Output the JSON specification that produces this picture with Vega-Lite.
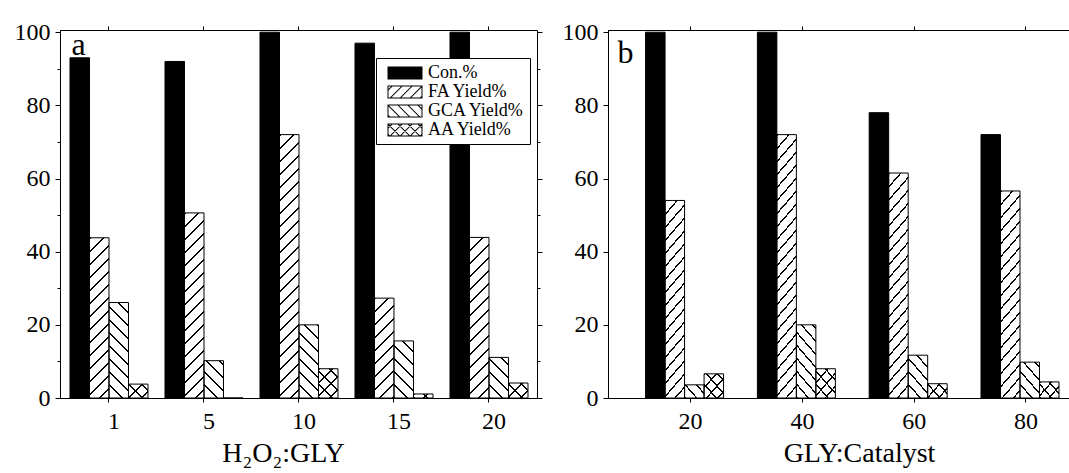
{
 "$schema": "https://vega.github.io/schema/vega-lite/v6.json",
 "padding": {"left": 13, "top": 19, "right": 0, "bottom": 0},
 "spacing": 18,
 "params": [{"name": "hatch", "value": [
  {"offset":0,"color":"#000"},{"offset":0.00641,"color":"#000"},{"offset":0.00641,"color":"rgba(0,0,0,0)"},{"offset":0.041667,"color":"rgba(0,0,0,0)"},
  {"offset":0.041667,"color":"#000"},{"offset":0.048077,"color":"#000"},{"offset":0.048077,"color":"rgba(0,0,0,0)"},{"offset":0.083333,"color":"rgba(0,0,0,0)"},
  {"offset":0.083333,"color":"#000"},{"offset":0.089744,"color":"#000"},{"offset":0.089744,"color":"rgba(0,0,0,0)"},{"offset":0.125,"color":"rgba(0,0,0,0)"},
  {"offset":0.125,"color":"#000"},{"offset":0.13141,"color":"#000"},{"offset":0.13141,"color":"rgba(0,0,0,0)"},{"offset":0.166667,"color":"rgba(0,0,0,0)"},
  {"offset":0.166667,"color":"#000"},{"offset":0.173077,"color":"#000"},{"offset":0.173077,"color":"rgba(0,0,0,0)"},{"offset":0.208333,"color":"rgba(0,0,0,0)"},
  {"offset":0.208333,"color":"#000"},{"offset":0.214744,"color":"#000"},{"offset":0.214744,"color":"rgba(0,0,0,0)"},{"offset":0.25,"color":"rgba(0,0,0,0)"},
  {"offset":0.25,"color":"#000"},{"offset":0.25641,"color":"#000"},{"offset":0.25641,"color":"rgba(0,0,0,0)"},{"offset":0.291667,"color":"rgba(0,0,0,0)"},
  {"offset":0.291667,"color":"#000"},{"offset":0.298077,"color":"#000"},{"offset":0.298077,"color":"rgba(0,0,0,0)"},{"offset":0.333333,"color":"rgba(0,0,0,0)"},
  {"offset":0.333333,"color":"#000"},{"offset":0.339744,"color":"#000"},{"offset":0.339744,"color":"rgba(0,0,0,0)"},{"offset":0.375,"color":"rgba(0,0,0,0)"},
  {"offset":0.375,"color":"#000"},{"offset":0.38141,"color":"#000"},{"offset":0.38141,"color":"rgba(0,0,0,0)"},{"offset":0.416667,"color":"rgba(0,0,0,0)"},
  {"offset":0.416667,"color":"#000"},{"offset":0.423077,"color":"#000"},{"offset":0.423077,"color":"rgba(0,0,0,0)"},{"offset":0.458333,"color":"rgba(0,0,0,0)"},
  {"offset":0.458333,"color":"#000"},{"offset":0.464744,"color":"#000"},{"offset":0.464744,"color":"rgba(0,0,0,0)"},{"offset":0.5,"color":"rgba(0,0,0,0)"},
  {"offset":0.5,"color":"#000"},{"offset":0.50641,"color":"#000"},{"offset":0.50641,"color":"rgba(0,0,0,0)"},{"offset":0.541667,"color":"rgba(0,0,0,0)"},
  {"offset":0.541667,"color":"#000"},{"offset":0.548077,"color":"#000"},{"offset":0.548077,"color":"rgba(0,0,0,0)"},{"offset":0.583333,"color":"rgba(0,0,0,0)"},
  {"offset":0.583333,"color":"#000"},{"offset":0.589744,"color":"#000"},{"offset":0.589744,"color":"rgba(0,0,0,0)"},{"offset":0.625,"color":"rgba(0,0,0,0)"},
  {"offset":0.625,"color":"#000"},{"offset":0.63141,"color":"#000"},{"offset":0.63141,"color":"rgba(0,0,0,0)"},{"offset":0.666667,"color":"rgba(0,0,0,0)"},
  {"offset":0.666667,"color":"#000"},{"offset":0.673077,"color":"#000"},{"offset":0.673077,"color":"rgba(0,0,0,0)"},{"offset":0.708333,"color":"rgba(0,0,0,0)"},
  {"offset":0.708333,"color":"#000"},{"offset":0.714744,"color":"#000"},{"offset":0.714744,"color":"rgba(0,0,0,0)"},{"offset":0.75,"color":"rgba(0,0,0,0)"},
  {"offset":0.75,"color":"#000"},{"offset":0.75641,"color":"#000"},{"offset":0.75641,"color":"rgba(0,0,0,0)"},{"offset":0.791667,"color":"rgba(0,0,0,0)"},
  {"offset":0.791667,"color":"#000"},{"offset":0.798077,"color":"#000"},{"offset":0.798077,"color":"rgba(0,0,0,0)"},{"offset":0.833333,"color":"rgba(0,0,0,0)"},
  {"offset":0.833333,"color":"#000"},{"offset":0.839744,"color":"#000"},{"offset":0.839744,"color":"rgba(0,0,0,0)"},{"offset":0.875,"color":"rgba(0,0,0,0)"},
  {"offset":0.875,"color":"#000"},{"offset":0.88141,"color":"#000"},{"offset":0.88141,"color":"rgba(0,0,0,0)"},{"offset":0.916667,"color":"rgba(0,0,0,0)"},
  {"offset":0.916667,"color":"#000"},{"offset":0.923077,"color":"#000"},{"offset":0.923077,"color":"rgba(0,0,0,0)"},{"offset":0.958333,"color":"rgba(0,0,0,0)"},
  {"offset":0.958333,"color":"#000"},{"offset":0.964744,"color":"#000"},{"offset":0.964744,"color":"rgba(0,0,0,0)"},{"offset":1,"color":"rgba(0,0,0,0)"}
 ]}],
 "datasets": {
  "a": [
   {"ratio":1,"series":"Con.%","value":93},{"ratio":1,"series":"FA Yield%","value":43.8},{"ratio":1,"series":"GCA Yield%","value":26.1},{"ratio":1,"series":"AA Yield%","value":3.8},
   {"ratio":5,"series":"Con.%","value":92},{"ratio":5,"series":"FA Yield%","value":50.6},{"ratio":5,"series":"GCA Yield%","value":10.2},{"ratio":5,"series":"AA Yield%","value":0},
   {"ratio":10,"series":"Con.%","value":100},{"ratio":10,"series":"FA Yield%","value":72},{"ratio":10,"series":"GCA Yield%","value":20},{"ratio":10,"series":"AA Yield%","value":8},
   {"ratio":15,"series":"Con.%","value":97},{"ratio":15,"series":"FA Yield%","value":27.3},{"ratio":15,"series":"GCA Yield%","value":15.6},{"ratio":15,"series":"AA Yield%","value":1.1},
   {"ratio":20,"series":"Con.%","value":100},{"ratio":20,"series":"FA Yield%","value":43.9},{"ratio":20,"series":"GCA Yield%","value":11.1},{"ratio":20,"series":"AA Yield%","value":4.1}
  ],
  "b": [
   {"ratio":20,"series":"Con.%","value":100},{"ratio":20,"series":"FA Yield%","value":54},{"ratio":20,"series":"GCA Yield%","value":3.6},{"ratio":20,"series":"AA Yield%","value":6.6},
   {"ratio":40,"series":"Con.%","value":100},{"ratio":40,"series":"FA Yield%","value":72},{"ratio":40,"series":"GCA Yield%","value":20},{"ratio":40,"series":"AA Yield%","value":8},
   {"ratio":60,"series":"Con.%","value":78},{"ratio":60,"series":"FA Yield%","value":61.5},{"ratio":60,"series":"GCA Yield%","value":11.7},{"ratio":60,"series":"AA Yield%","value":3.9},
   {"ratio":80,"series":"Con.%","value":72},{"ratio":80,"series":"FA Yield%","value":56.6},{"ratio":80,"series":"GCA Yield%","value":9.8},{"ratio":80,"series":"AA Yield%","value":4.4}
  ]
 },
 "config": {
  "font": "Liberation Serif",
  "view": {"stroke": "black", "strokeWidth": 1},
  "axis": {"labelFont": "Liberation Serif", "labelFontSize": 24, "labelColor": "black", "titleFont": "Liberation Serif", "titleFontSize": 28, "titleFontWeight": "normal", "titleColor": "black", "domainColor": "black", "tickColor": "black", "grid": false},
  "legend": {"title": null, "orient": "none", "strokeColor": "black", "fillColor": "white", "padding": 5,
             "labelFont": "Liberation Serif", "labelFontSize": 18, "labelColor": "black", "symbolSize": 400, "rowPadding": -1,
             "symbolOffset": 14, "labelOffset": 13, "symbolStrokeWidth": 0, "symbolOpacity": 1}
 },
 "hconcat": [
  {
   "width": 477, "height": 368,
   "data": {"name": "a"},
   "transform": [
    {"calculate": "datum.value * 3.658", "as": "hp"},
    {"calculate": "312 / (380.25 + datum.hp * datum.hp)", "as": "kk"},
    {"calculate": "datum.series === 'Con.%' ? 'black' : (datum.series === 'GCA Yield%' ? {gradient: 'linear', x1: 0, y1: 1, x2: datum.kk * 19.5, y2: 1 - datum.kk * datum.hp, stops: hatch} : {gradient: 'linear', x1: 0, y1: 0, x2: datum.kk * 19.5, y2: datum.kk * datum.hp, stops: hatch})", "as": "g1"},
    {"calculate": "{gradient: 'linear', x1: 0, y1: 1, x2: datum.kk * 19.5, y2: 1 - datum.kk * datum.hp, stops: hatch}", "as": "g2"}
   ],
   "layer": [
    {
     "mark": {"type": "bar", "strokeWidth": 1, "stroke": "black"},
     "encoding": {
      "x": {"field": "ratio", "type": "ordinal", "scale": {"domain": [1,5,10,15,20], "paddingInner": 0.179, "paddingOuter": 0.1, "align": 0.526},
            "axis": {"title": "H₂O₂:GLY", "labelAngle": 0, "tickSize": 4, "labelPadding": 7, "titlePadding": 6, "labelOffset": 5, "titleX": 223}},
      "xOffset": {"field": "series", "type": "nominal", "sort": null, "scale": {"domain": ["Con.%","FA Yield%","GCA Yield%","AA Yield%"], "paddingInner": 0, "paddingOuter": 0}},
      "y": {"field": "value", "type": "quantitative", "scale": {"domain": [0, 100.6], "nice": false},
            "axis": {"title": "a", "titleAngle": 0, "titleX": 11, "titleY": 24, "titleAlign": "left", "titleBaseline": "alphabetic", "titleFontSize": 32,
                     "values": [0,10,20,30,40,50,60,70,80,90,100], "labelExpr": "datum.value % 20 === 0 ? datum.label : ''", "tickSize": {"condition": {"test": "datum.value % 20 !== 0", "value": 3}, "value": 5}, "labelPadding": 5}},
      "fill": {"field": "g1", "type": "nominal", "scale": null}
     }
    },
    {
     "transform": [{"filter": "datum.series === 'AA Yield%'"}],
     "mark": {"type": "bar", "strokeWidth": 0},
     "encoding": {
      "x": {"field": "ratio", "type": "ordinal", "scale": {"domain": [1,5,10,15,20], "paddingInner": 0.179, "paddingOuter": 0.1, "align": 0.526},
            "axis": {"orient": "top", "labels": false, "title": null, "domain": false, "tickSize": 4}},
      "xOffset": {"field": "series", "type": "nominal", "sort": null, "scale": {"domain": ["Con.%","FA Yield%","GCA Yield%","AA Yield%"], "paddingInner": 0, "paddingOuter": 0}},
      "y": {"field": "value", "type": "quantitative", "scale": {"domain": [0, 100.6], "nice": false},
            "axis": {"orient": "right", "title": null, "labels": false, "domain": false, "values": [0,10,20,30,40,50,60,70,80,90,100], "tickSize": {"condition": {"test": "datum.value % 20 !== 0", "value": 3}, "value": 5}}},
      "fill": {"field": "g2", "type": "nominal", "scale": null}
     }
    },
    {
     "mark": {"type": "point", "filled": true, "opacity": 0, "color": "black"},
     "encoding": {
      "x": {"field": "ratio", "type": "ordinal", "scale": {"domain": [1,5,10,15,20], "paddingInner": 0.179, "paddingOuter": 0.1, "align": 0.526}, "axis": null},
      "xOffset": {"field": "series", "type": "nominal", "sort": null, "scale": {"domain": ["Con.%","FA Yield%","GCA Yield%","AA Yield%"], "paddingInner": 0, "paddingOuter": 0}},
      "y": {"field": "value", "type": "quantitative", "scale": {"domain": [0, 100.6], "nice": false}, "axis": null},
      "shape": {"field": "series", "type": "nominal", "sort": null,
                "scale": {"domain": ["Con.%","FA Yield%","GCA Yield%","AA Yield%"], "range": [
                  "M-1.75,-0.65H1.75V0.65H-1.75Z",
                  "M-1.75,-0.65H1.75V0.65H-1.75ZM-1.65,-0.55V0.55H1.65V-0.55ZM-1.65,-0.3L-1.4,-0.55L-1.26,-0.55L-1.65,-0.16ZM-1.5,0.55L-0.4,-0.55L-0.26,-0.55L-1.36,0.55ZM-0.5,0.55L0.6,-0.55L0.74,-0.55L-0.36,0.55ZM0.5,0.55L1.6,-0.55L1.65,-0.55L1.65,-0.46L0.64,0.55ZM1.5,0.55L1.65,0.4L1.65,0.54L1.64,0.55Z",
                  "M-1.75,-0.65H1.75V0.65H-1.75ZM-1.65,-0.55V0.55H1.65V-0.55ZM1.65,-0.3L1.4,-0.55L1.26,-0.55L1.65,-0.16ZM1.5,0.55L0.4,-0.55L0.26,-0.55L1.36,0.55ZM0.5,0.55L-0.6,-0.55L-0.74,-0.55L0.36,0.55ZM-0.5,0.55L-1.6,-0.55L-1.65,-0.55L-1.65,-0.46L-0.64,0.55ZM-1.5,0.55L-1.65,0.4L-1.65,0.54L-1.64,0.55Z",
                  "M-1.75,-0.65H1.75V0.65H-1.75ZM-1.65,-0.55V0.55H1.65V-0.55ZM-1.65,-0.3L-1.4,-0.55L-1.26,-0.55L-1.65,-0.16ZM-1.5,0.55L-0.4,-0.55L-0.26,-0.55L-1.36,0.55ZM-0.5,0.55L0.6,-0.55L0.74,-0.55L-0.36,0.55ZM0.5,0.55L1.6,-0.55L1.65,-0.55L1.65,-0.46L0.64,0.55ZM1.5,0.55L1.65,0.4L1.65,0.54L1.64,0.55ZM1.65,-0.16L1.26,-0.55L1.4,-0.55L1.65,-0.3ZM1.36,0.55L0.26,-0.55L0.4,-0.55L1.5,0.55ZM0.36,0.55L-0.74,-0.55L-0.6,-0.55L0.5,0.55ZM-0.64,0.55L-1.65,-0.46L-1.65,-0.55L-1.6,-0.55L-0.5,0.55ZM-1.64,0.55L-1.65,0.54L-1.65,0.4L-1.5,0.55Z"]},
                "legend": {"legendX": 316, "legendY": 28}}
     }
    }
   ],
   "resolve": {"axis": {"x": "independent", "y": "independent"}}
  },
  {
   "width": 463, "height": 368,
   "data": {"name": "b"},
   "transform": [
    {"calculate": "datum.value * 3.658", "as": "hp"},
    {"calculate": "312 / (506.25 + datum.hp * datum.hp)", "as": "kk"},
    {"calculate": "datum.series === 'Con.%' ? 'black' : (datum.series === 'GCA Yield%' ? {gradient: 'linear', x1: 0, y1: 1, x2: datum.kk * 22.5, y2: 1 - datum.kk * datum.hp, stops: hatch} : {gradient: 'linear', x1: 0, y1: 0, x2: datum.kk * 22.5, y2: datum.kk * datum.hp, stops: hatch})", "as": "g1"},
    {"calculate": "{gradient: 'linear', x1: 0, y1: 1, x2: datum.kk * 22.5, y2: 1 - datum.kk * datum.hp, stops: hatch}", "as": "g2"}
   ],
   "layer": [
    {
     "mark": {"type": "bar", "strokeWidth": 1, "stroke": "black"},
     "encoding": {
      "x": {"field": "ratio", "type": "ordinal", "scale": {"domain": [20,40,60,80], "paddingInner": 0.195, "paddingOuter": 0.168, "align": 1},
            "axis": {"title": "GLY:Catalyst", "labelAngle": 0, "tickSize": 4, "labelPadding": 7, "titlePadding": 6, "titleX": 251}},
      "xOffset": {"field": "series", "type": "nominal", "sort": null, "scale": {"domain": ["Con.%","FA Yield%","GCA Yield%","AA Yield%"], "paddingInner": 0, "paddingOuter": 0}},
      "y": {"field": "value", "type": "quantitative", "scale": {"domain": [0, 100.6], "nice": false},
            "axis": {"title": "b", "titleAngle": 0, "titleX": 9, "titleY": 32, "titleAlign": "left", "titleBaseline": "alphabetic", "titleFontSize": 32,
                     "values": [0,10,20,30,40,50,60,70,80,90,100], "labelExpr": "datum.value % 20 === 0 ? datum.label : ''", "tickSize": {"condition": {"test": "datum.value % 20 !== 0", "value": 3}, "value": 5}, "labelPadding": 5}},
      "fill": {"field": "g1", "type": "nominal", "scale": null}
     }
    },
    {
     "transform": [{"filter": "datum.series === 'AA Yield%'"}],
     "mark": {"type": "bar", "strokeWidth": 0},
     "encoding": {
      "x": {"field": "ratio", "type": "ordinal", "scale": {"domain": [20,40,60,80], "paddingInner": 0.195, "paddingOuter": 0.168, "align": 1},
            "axis": {"orient": "top", "labels": false, "title": null, "domain": false, "tickSize": 4}},
      "xOffset": {"field": "series", "type": "nominal", "sort": null, "scale": {"domain": ["Con.%","FA Yield%","GCA Yield%","AA Yield%"], "paddingInner": 0, "paddingOuter": 0}},
      "y": {"field": "value", "type": "quantitative", "scale": {"domain": [0, 100.6], "nice": false}},
      "fill": {"field": "g2", "type": "nominal", "scale": null}
     }
    },
    {
     "mark": {"type": "point", "filled": true, "opacity": 0, "color": "black"},
     "encoding": {
      "x": {"field": "ratio", "type": "ordinal", "scale": {"domain": [20,40,60,80], "paddingInner": 0.195, "paddingOuter": 0.168, "align": 1}, "axis": null},
      "xOffset": {"field": "series", "type": "nominal", "sort": null, "scale": {"domain": ["Con.%","FA Yield%","GCA Yield%","AA Yield%"], "paddingInner": 0, "paddingOuter": 0}},
      "y": {"field": "value", "type": "quantitative", "scale": {"domain": [0, 100.6], "nice": false}},
      "shape": {"field": "series", "type": "nominal", "sort": null,
                "scale": {"domain": ["Con.%","FA Yield%","GCA Yield%","AA Yield%"], "range": [
                  "M-1.75,-0.65H1.75V0.65H-1.75Z",
                  "M-1.75,-0.65H1.75V0.65H-1.75ZM-1.65,-0.55V0.55H1.65V-0.55ZM-1.65,-0.3L-1.4,-0.55L-1.26,-0.55L-1.65,-0.16ZM-1.5,0.55L-0.4,-0.55L-0.26,-0.55L-1.36,0.55ZM-0.5,0.55L0.6,-0.55L0.74,-0.55L-0.36,0.55ZM0.5,0.55L1.6,-0.55L1.65,-0.55L1.65,-0.46L0.64,0.55ZM1.5,0.55L1.65,0.4L1.65,0.54L1.64,0.55Z",
                  "M-1.75,-0.65H1.75V0.65H-1.75ZM-1.65,-0.55V0.55H1.65V-0.55ZM1.65,-0.3L1.4,-0.55L1.26,-0.55L1.65,-0.16ZM1.5,0.55L0.4,-0.55L0.26,-0.55L1.36,0.55ZM0.5,0.55L-0.6,-0.55L-0.74,-0.55L0.36,0.55ZM-0.5,0.55L-1.6,-0.55L-1.65,-0.55L-1.65,-0.46L-0.64,0.55ZM-1.5,0.55L-1.65,0.4L-1.65,0.54L-1.64,0.55Z",
                  "M-1.75,-0.65H1.75V0.65H-1.75ZM-1.65,-0.55V0.55H1.65V-0.55ZM-1.65,-0.3L-1.4,-0.55L-1.26,-0.55L-1.65,-0.16ZM-1.5,0.55L-0.4,-0.55L-0.26,-0.55L-1.36,0.55ZM-0.5,0.55L0.6,-0.55L0.74,-0.55L-0.36,0.55ZM0.5,0.55L1.6,-0.55L1.65,-0.55L1.65,-0.46L0.64,0.55ZM1.5,0.55L1.65,0.4L1.65,0.54L1.64,0.55ZM1.65,-0.16L1.26,-0.55L1.4,-0.55L1.65,-0.3ZM1.36,0.55L0.26,-0.55L0.4,-0.55L1.5,0.55ZM0.36,0.55L-0.74,-0.55L-0.6,-0.55L0.5,0.55ZM-0.64,0.55L-1.65,-0.46L-1.65,-0.55L-1.6,-0.55L-0.5,0.55ZM-1.64,0.55L-1.65,0.54L-1.65,0.4L-1.5,0.55Z"]},
                "legend": {"legendX": 302, "legendY": 5}}
     }
    }
   ],
   "resolve": {"axis": {"x": "independent"}}
  }
 ]
}
